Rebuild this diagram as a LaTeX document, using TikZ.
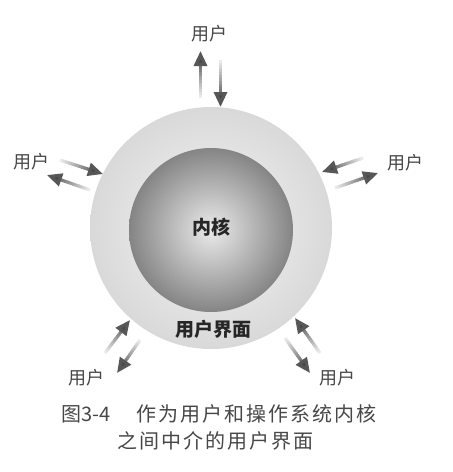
\documentclass[tikz,border=0pt]{standalone}
\usepackage{fontspec}
\newfontfamily\cjk{Noto Sans CJK SC}
\usetikzlibrary{arrows.meta,calc}
\tikzset{
  userlbl/.style={font=\cjk\fontsize{18}{18}\selectfont, text=black!72, inner sep=0pt},
  corelbl/.style={font=\cjk\bfseries\fontsize{19}{19}\selectfont, text=black!85, inner sep=0pt},
  caplbl/.style={font=\cjk\fontsize{20}{20}\selectfont\addfontfeature{LetterSpace=10}, text=black!72, inner sep=0pt, anchor=west},
  numlbl/.style={font=\cjk\fontsize{20}{20}\selectfont, text=black!72, inner sep=0pt, anchor=west},
  shaftpart/.style={line width=3.2pt},
  shaftdark/.style={line width=3.2pt, draw=black!66, -{Triangle[length=15pt,width=13pt,fill=black!72]}},
}
\newcommand\flowarrow[2]{%
  \foreach \k in {0,...,11}{%
    \pgfmathsetmacro\ta{\k/16}%
    \pgfmathsetmacro\tb{(\k+1.3)/16}%
    \pgfmathsetmacro\sh{8+4.5*\k}%
    \draw[shaftpart, draw=black!\sh] ($(#1)!\ta!(#2)$) -- ($(#1)!\tb!(#2)$);
  }%
  \draw[shaftdark] ($(#1)!0.74!(#2)$) -- (#2);
}
\begin{document}
\begin{tikzpicture}[x=1pt,y=-1pt]
\useasboundingbox[fill=white] (0,0) rectangle (453,472);
% spheres
\shade[inner color=black!4, outer color=black!15] (211,228) circle[radius=121];
\shade[inner color=black!8, outer color=black!48] (211,230) circle[radius=82];
\node[corelbl] (kernel) at (211,227) {内核};
\node[corelbl] (ui) at (213,329) {用户界面};
% user labels
\node[userlbl] (utop) at (209,34) {用户};
\node[userlbl] (uleft) at (31,162) {用户};
\node[userlbl] (uright) at (405,163) {用户};
\node[userlbl] (ubl) at (86,378) {用户};
\node[userlbl] (ubr) at (337,378) {用户};
% arrow ends
\coordinate (t1s) at (200.5,98); \coordinate (t1e) at (200.5,51);
\coordinate (t2s) at (220.5,60); \coordinate (t2e) at (220.5,107);
\coordinate (l1s) at (60,160);  \coordinate (l1e) at (103,174);
\coordinate (l2s) at (90,190);  \coordinate (l2e) at (47,175);
\coordinate (r1s) at (363,158); \coordinate (r1e) at (322,172);
\coordinate (r2s) at (335,188); \coordinate (r2e) at (378,173);
\coordinate (a1s) at (105,353); \coordinate (a1e) at (130,320);
\coordinate (a2s) at (140,340); \coordinate (a2e) at (117,373);
\coordinate (b1s) at (320,353); \coordinate (b1e) at (295,318);
\coordinate (b2s) at (285,338); \coordinate (b2e) at (310,373);
\flowarrow{t1s}{t1e}
\flowarrow{t2s}{t2e}
\flowarrow{l1s}{l1e}
\flowarrow{l2s}{l2e}
\flowarrow{r1s}{r1e}
\flowarrow{r2s}{r2e}
\flowarrow{a1s}{a1e}
\flowarrow{a2s}{a2e}
\flowarrow{b1s}{b1e}
\flowarrow{b2s}{b2e}
% caption
\node[numlbl] (capnum) at (61,414) {图3-4};
\node[caplbl] (cap1) at (136,414) {作为用户和操作系统内核};
\node[caplbl] (cap2) at (117,441) {之间中介的用户界面};
\end{tikzpicture}
\end{document}
